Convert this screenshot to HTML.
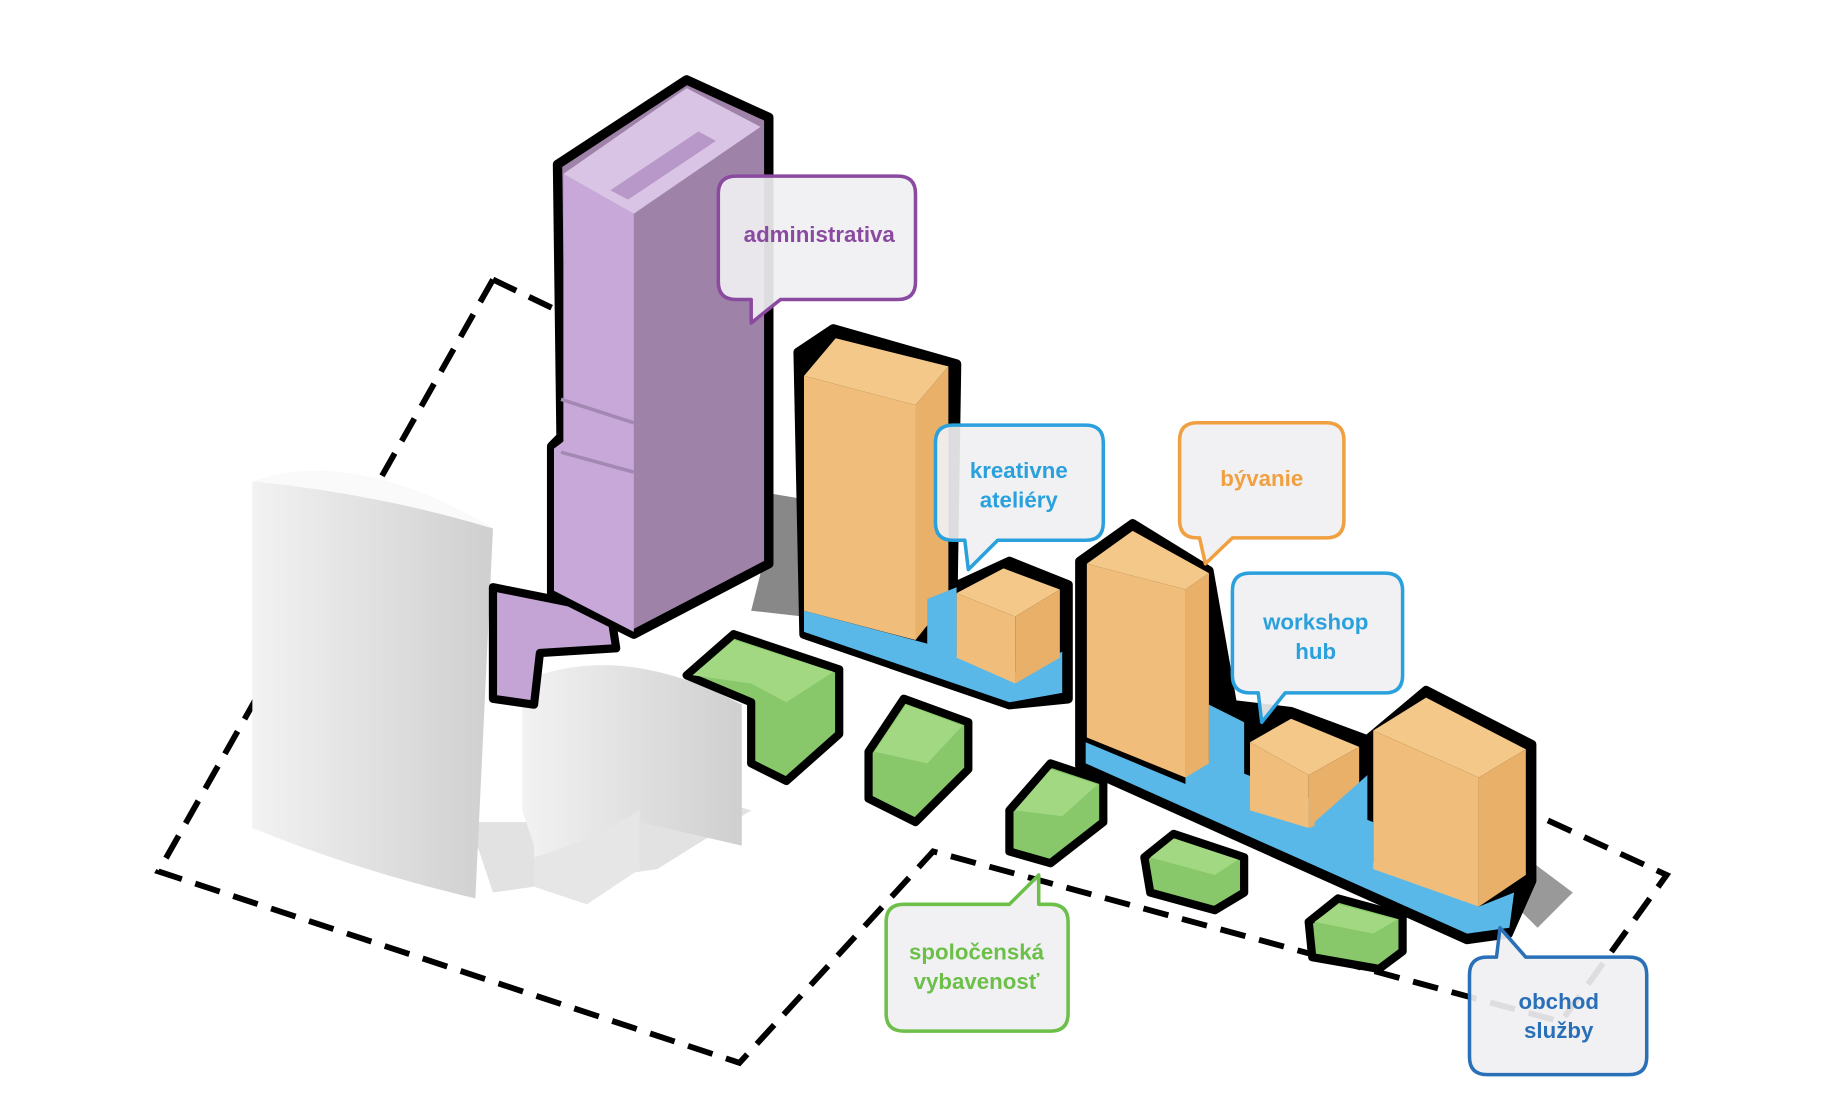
<!DOCTYPE html>
<html><head><meta charset="utf-8"><style>
html,body{margin:0;padding:0;background:#fff;width:1831px;height:1111px;overflow:hidden}
svg{display:block}
text{font-family:"Liberation Sans",sans-serif;font-weight:bold;font-size:19px;text-anchor:middle}
</style></head><body>
<svg width="1831" height="1111" viewBox="0 0 1560 946" preserveAspectRatio="none" xmlns="http://www.w3.org/2000/svg">
<defs>
<linearGradient id="wg" x1="0" x2="1" y1="0" y2="0"><stop offset="0" stop-color="#f2f2f2"/><stop offset="1" stop-color="#cfcfcf"/></linearGradient>
</defs>
<polyline points="420,238 470,262" fill="none" stroke="#000" stroke-width="5" stroke-dasharray="22,12"/>
<polyline points="420,238 135,742 630,905 795,725 1330,870 1420,745 1300,690" fill="none" stroke="#000" stroke-width="5" stroke-dasharray="22,12"/>
<polygon points="655,420 685,425 685,525 640,520 650,480" fill="#888"/>
<polygon points="1300,730 1340,760 1310,790 1290,770" fill="#999"/>
<polygon points="400,700 470,700 540,660 640,690 560,740 420,760" fill="#e2e2e2"/>
<path d="M215,410 Q300,380 420,450 L405,765 Q300,740 215,705 Z" fill="url(#wg)"/>
<path d="M215,410 Q300,380 420,450 Q320,420 215,410Z" fill="#fafafa"/>
<path d="M445,580 Q530,545 632,600 L632,720 L545,700 L545,740 L500,770 L455,755 L455,720 L445,690 Z" fill="url(#wg)"/>
<polygon points="455,730 500,715 545,690 545,740 500,770 455,755" fill="#e6e6e6"/>
<polygon points="420,500 520,520 525,552 460,556 455,600 420,595" fill="#c4a4d4" stroke="#000" stroke-width="7" stroke-linejoin="round"/>
<polygon points="475,140 585,68 655,100 655,480 540,540 470,505 470,380 478,372" fill="#9e82a8" stroke="#000" stroke-width="8" stroke-linejoin="round"/>
<polygon points="480,148 540,182 540,538 472,503 472,382 480,376" fill="#c8a8d8"/>
<polygon points="480,148 585,75 648,108 540,182" fill="#dac4e6"/>
<polygon points="520,162 595,112 610,120 535,170" fill="#b898c8"/>
<line x1="478" y1="340" x2="540" y2="360" stroke="#a488b4" stroke-width="3"/>
<line x1="478" y1="385" x2="540" y2="402" stroke="#a488b4" stroke-width="3"/>
<polygon points="680,300 710,280 815,310 812,500 860,478 910,498 910,595 860,600 685,540" fill="#000" stroke="#000" stroke-width="8" stroke-linejoin="round"/>
<polygon points="685,520 790,548 860,575 905,555 905,590 860,598 685,538" fill="#5ab8e8"/>
<polygon points="685,320 780,345 780,545 685,520" fill="#f0be7a"/>
<polygon points="780,345 808,312 808,510 780,545" fill="#e8b068"/>
<polygon points="685,320 712,288 808,312 780,345" fill="#f4c888"/>
<polygon points="815,505 855,484 903,502 865,525" fill="#f4c888"/>
<polygon points="815,505 865,525 865,582 815,560" fill="#f0be7a"/>
<polygon points="865,525 903,502 903,560 865,582" fill="#e8b068"/>
<polygon points="790,510 815,500 815,560 790,548" fill="#5ab8e8"/>
<polygon points="920,478 965,446 1030,486 1050,600 1100,606 1165,630 1215,588 1305,634 1305,750 1285,795 1250,800 920,652" fill="#000" stroke="#000" stroke-width="8" stroke-linejoin="round"/>
<polygon points="925,632 1260,772 1290,760 1286,790 1250,795 925,650" fill="#5ab8e8"/>
<polygon points="1010,640 1170,700 1170,740 1010,680" fill="#5ab8e8"/>
<polygon points="926,480 1010,502 1010,662 926,628" fill="#f0be7a"/>
<polygon points="1010,502 1030,488 1030,650 1010,662" fill="#e8b068"/>
<polygon points="926,480 965,452 1030,488 1010,502" fill="#f4c888"/>
<polygon points="1030,600 1060,615 1060,660 1030,650" fill="#5ab8e8"/>
<polygon points="1065,632 1100,612 1158,636 1115,660" fill="#f4c888"/>
<polygon points="1065,632 1115,660 1115,705 1065,690" fill="#f0be7a"/>
<polygon points="1115,660 1158,636 1158,690 1115,705" fill="#e8b068"/>
<polygon points="1120,700 1165,660 1165,740 1120,720" fill="#5ab8e8"/>
<polygon points="1170,622 1215,594 1300,638 1260,662" fill="#f4c888"/>
<polygon points="1170,622 1260,662 1260,772 1170,740" fill="#f0be7a"/>
<polygon points="1260,662 1300,638 1300,745 1260,772" fill="#e8b068"/>
<g stroke="#000" stroke-width="7" stroke-linejoin="round">
<polygon points="585,575 625,540 715,570 715,625 670,665 640,650 640,598" fill="#88c86a"/>
<polygon points="740,640 770,595 825,615 825,655 780,700 740,680" fill="#88c86a"/>
<polygon points="860,690 895,650 940,665 940,700 895,735 860,725" fill="#88c86a"/>
<polygon points="975,730 1000,710 1060,730 1060,760 1035,775 980,760" fill="#88c86a"/>
<polygon points="1115,785 1140,765 1195,780 1195,810 1175,825 1118,815" fill="#88c86a"/>
</g>
<g fill="#a2d882">
<polygon points="590,575 625,545 710,572 670,598 640,582"/>
<polygon points="745,640 772,600 820,618 790,650"/>
<polygon points="865,690 895,655 935,668 905,695"/>
<polygon points="980,730 1000,714 1055,732 1035,745"/>
<polygon points="1120,785 1140,770 1190,783 1170,795"/>
</g>
<g stroke-width="3" fill="#f0f0f2" fill-opacity="0.92" stroke-linejoin="round">
<path d="M627,150 H765 Q780,150 780,165 V240 Q780,255 765,255 H665 L640,275 L640,255 H627 Q612,255 612,240 V165 Q612,150 627,150Z" stroke="#8a4aa0"/>
<path d="M812,362 H925 Q940,362 940,377 V445 Q940,460 925,460 H850 L825,485 L822,460 H812 Q797,460 797,445 V377 Q797,362 812,362Z" stroke="#2aa0dc"/>
<path d="M1020,360 H1130 Q1145,360 1145,375 V443 Q1145,458 1130,458 H1050 L1027,480 L1022,458 H1020 Q1005,458 1005,443 V375 Q1005,360 1020,360Z" stroke="#f0a040"/>
<path d="M1065,488 H1180 Q1195,488 1195,503 V575 Q1195,590 1180,590 H1095 L1075,615 L1072,590 H1065 Q1050,590 1050,575 V503 Q1050,488 1065,488Z" stroke="#2aa0dc"/>
<path d="M770,770 H860 L885,745 L885,770 H895 Q910,770 910,785 V863 Q910,878 895,878 H770 Q755,878 755,863 V785 Q755,770 770,770Z" stroke="#6cc04a"/>
<path d="M1267,815 H1275 L1278,790 L1300,815 H1388 Q1403,815 1403,830 V900 Q1403,915 1388,915 H1267 Q1252,915 1252,900 V830 Q1252,815 1267,815Z" stroke="#2a70b8"/>
</g>
<text x="698" y="206" fill="#8a4aa0">administrativa</text>
<text x="868" y="407" fill="#2aa0dc">kreativne</text>
<text x="868" y="432" fill="#2aa0dc">ateliéry</text>
<text x="1075" y="414" fill="#f0a040">bývanie</text>
<text x="1121" y="536" fill="#2aa0dc">workshop</text>
<text x="1121" y="561" fill="#2aa0dc">hub</text>
<text x="832" y="817" fill="#6cc04a">spoločenská</text>
<text x="832" y="842" fill="#6cc04a">vybavenosť</text>
<text x="1328" y="859" fill="#2a70b8">obchod</text>
<text x="1328" y="884" fill="#2a70b8">služby</text>
</svg>
</body></html>
